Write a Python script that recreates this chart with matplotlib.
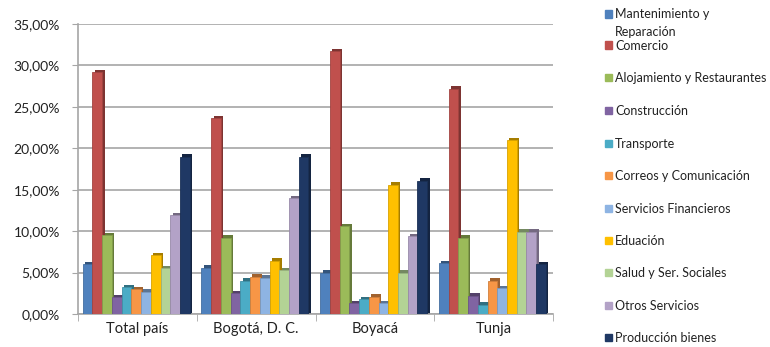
import matplotlib
matplotlib.use("Agg")
import matplotlib.pyplot as plt
import numpy as np
from matplotlib.patches import Rectangle
from matplotlib.colors import to_rgb

plt.rcParams['font.family'] = ['Lato', 'DejaVu Sans']

categories = ["Total país", "Bogotá, D. C.", "Boyacá", "Tunja"]
series_names = ["Mantenimiento y\nReparación", "Comercio", "Alojamiento y Restaurantes",
                "Construcción", "Transporte", "Correos y Comunicación",
                "Servicios Financieros", "Eduación", "Salud y Ser. Sociales",
                "Otros Servicios", "Producción bienes"]
colors = ["#4F81BD", "#C0504D", "#9BBB59", "#8064A2", "#4BACC6", "#F79646",
          "#8EB4E3", "#FFC000", "#B3D395", "#B3A2C7", "#1F3864"]

mantenimiento = [6.0, 5.6, 5.0, 6.1]
comercio = [29.2, 23.6, 31.7, 27.2]
alojamiento = [9.5, 9.2, 10.6, 9.2]
construccion = [2.0, 2.5, 1.3, 2.2]
transporte = [3.2, 4.0, 1.8, 1.1]
correos = [3.0, 4.5, 2.1, 4.0]
financieros = [2.7, 4.4, 1.3, 3.1]
educacion = [7.1, 6.4, 15.6, 21.0]
salud = [5.5, 5.3, 5.0, 9.9]
otros = [11.9, 14.0, 9.4, 9.9]
produccion = [19.0, 19.0, 16.1, 6.0]

series = [mantenimiento, comercio, alojamiento, construccion, transporte, correos,
          financieros, educacion, salud, otros, produccion]

yticks = [0, 5, 10, 15, 20, 25, 30, 35]
ytick_labels = ["0,00%", "5,00%", "10,00%", "15,00%", "20,00%", "25,00%", "30,00%", "35,00%"]

W, H = 770, 347
fig = plt.figure(figsize=(W / 100, H / 100), dpi=100)
ax = fig.add_axes([78 / W, 1 - 314 / H, (553 - 78) / W, (314 - 24) / H])

x = np.arange(len(categories))
n = len(series)
w = 0.082
dx = w * 0.25
dy = 0.3

def darker(c, f=0.7):
    r, g, b = to_rgb(c)
    return (r * f, g * f, b * f)

for i, (vals, col) in enumerate(zip(series, colors)):
    pos = x + (i - (n - 1) / 2) * w - dx / 2
    ax.bar(pos + dx, np.array(vals) + dy, w, color=darker(col, 0.65), zorder=2 + i * 0.01,
           linewidth=0)
    ax.bar(pos, vals, w, color=col, zorder=3 + i * 0.01, linewidth=0.6,
           edgecolor=darker(col, 0.85))

ax.set_xlim(-0.5, len(categories) - 0.5)
ax.set_ylim(0, 35)
ax.set_yticks(yticks)
ax.set_yticklabels(ytick_labels, fontsize=10, color="#222222")
ax.set_xticks(x)
ax.set_xticklabels(categories, fontsize=10.5, color="#222222")
ax.yaxis.grid(True, color="#A6A6A6", linewidth=1.2, zorder=0)
ax.set_axisbelow(True)
for s in ["top", "right"]:
    ax.spines[s].set_visible(False)
ax.spines["left"].set_color("#A6A6A6")
ax.spines["bottom"].set_color("#A6A6A6")
ax.spines["left"].set_linewidth(1.2)
ax.spines["bottom"].set_linewidth(1.2)
ax.tick_params(axis="y", length=4, color="#A6A6A6", pad=9)
ax.tick_params(axis="x", length=0, pad=6)
ax.set_xticks(np.arange(len(categories) + 1) - 0.5, minor=True)
ax.tick_params(axis="x", which="minor", length=5, color="#A6A6A6")

# legend drawn manually
leg_y = [14, 45, 77, 110, 143, 175, 208, 240, 272, 305, 337]
for name, col, yy in zip(series_names, colors, leg_y):
    fig.add_artist(Rectangle((605 / W, 1 - (yy + 3.5) / H), 7 / W, 7 / H,
                             transform=fig.transFigure, color=col))
    if "\n" in name:
        fig.text(615 / W, 1 - (yy - 6.5) / H, name, fontsize=9, color="#222222",
                 va="top", ha="left", linespacing=1.6)
    else:
        fig.text(615 / W, 1 - (yy + 1) / H, name, fontsize=9, color="#222222",
                 va="center", ha="left")

fig.savefig("out.png", dpi=100)
